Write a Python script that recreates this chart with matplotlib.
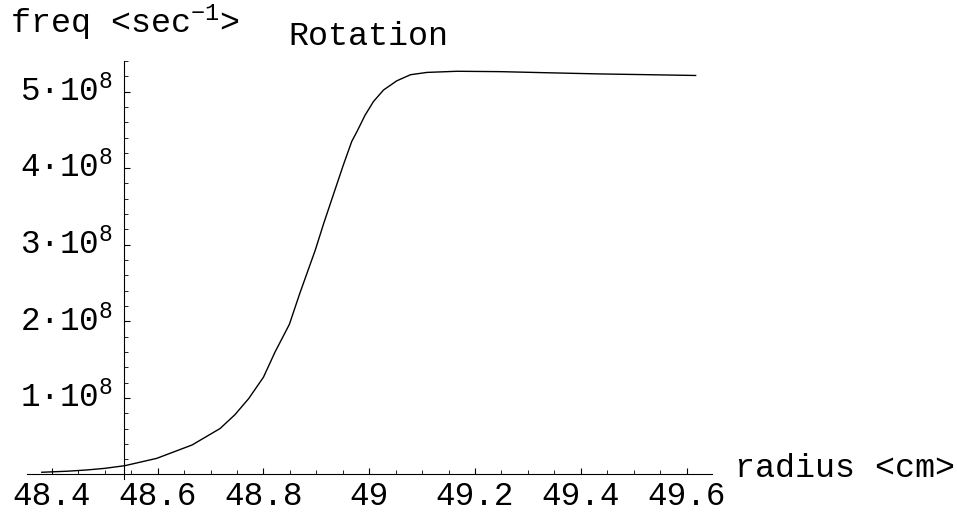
import numpy as np
import matplotlib
matplotlib.use("Agg")
import matplotlib.pyplot as plt
from matplotlib.ticker import MultipleLocator, FixedLocator, FixedFormatter

plt.rcParams['font.family'] = 'Liberation Mono'
plt.rcParams['mathtext.fontset'] = 'custom'
plt.rcParams['mathtext.rm'] = 'Liberation Mono'
plt.rcParams['mathtext.it'] = 'Liberation Mono'
plt.rcParams['mathtext.bf'] = 'Liberation Mono:bold'

# rotation frequency vs radius
radius = [48.381, 48.43, 48.466, 48.50, 48.538, 48.598, 48.665, 48.718,
          48.746, 48.772, 48.80, 48.822, 48.849, 48.869, 48.898, 48.914,
          48.932, 48.951, 48.967, 48.977, 48.992, 49.008, 49.027, 49.052,
          49.078, 49.109, 49.166, 49.248, 49.34, 49.437, 49.53, 49.617]
freq = [0.029, 0.043, 0.059, 0.08, 0.115, 0.21, 0.385, 0.60,
        0.78, 0.99, 1.27, 1.60, 1.96, 2.37, 2.93, 3.28,
        3.65, 4.04, 4.35, 4.48, 4.69, 4.87, 5.02, 5.14,
        5.22, 5.25, 5.265, 5.26, 5.245, 5.23, 5.22, 5.21]
freq = np.array(freq) * 1e8

x_ticks = [48.4, 48.6, 48.8, 49.0, 49.2, 49.4, 49.6]
x_labels = ["48.4", "48.6", "48.8", "49", "49.2", "49.4", "49.6"]
y_ticks = [1e8, 2e8, 3e8, 4e8, 5e8]
y_labels = ["1·10$^{8}$", "2·10$^{8}$", "3·10$^{8}$", "4·10$^{8}$", "5·10$^{8}$"]

fs = 24
fig = plt.figure(figsize=(9.57, 5.12), dpi=100, facecolor="w")
ax = fig.add_axes([0.0282, 0.0643, 0.7158, 0.8167])

ax.plot(radius, freq, c='k', lw=1.0)

ax.set_xlim(48.353, 49.648)
ax.set_ylim(-0.06e8, 5.4e8)

for s in ['top', 'right']:
    ax.spines[s].set_color('none')
ax.spines['left'].set_position(('data', 48.536))
ax.spines['bottom'].set_position(('data', 0))
for s in ['left', 'bottom']:
    ax.spines[s].set_linewidth(0.8)

ax.xaxis.set_major_locator(FixedLocator(x_ticks))
ax.xaxis.set_major_formatter(FixedFormatter(x_labels))
ax.xaxis.set_minor_locator(MultipleLocator(0.05))
ax.yaxis.set_major_locator(FixedLocator(y_ticks))
ax.yaxis.set_major_formatter(FixedFormatter(y_labels))
ax.yaxis.set_minor_locator(MultipleLocator(0.2e8))

ax.tick_params(axis='x', which='both', direction='in', labelsize=23.5, pad=5)
ax.tick_params(axis='y', which='both', direction='in', labelsize=23.5, pad=8)
ax.tick_params(which='major', length=4.5, width=0.8)
ax.tick_params(which='minor', length=2.7, width=0.6)
for lbl in ax.get_yticklabels():
    lbl.set_va('center')

fig.text(10/957, 1-33/512, "freq <sec$^{-1}$>", fontsize=fs, va='baseline', ha='left')
fig.text(288/957, 1-45/512, "Rotation", fontsize=fs, va='baseline', ha='left')
fig.text(735/957, 1-477/512, "radius <cm>", fontsize=fs, va='baseline', ha='left')

fig.savefig("out.png", dpi=100, facecolor="w")
